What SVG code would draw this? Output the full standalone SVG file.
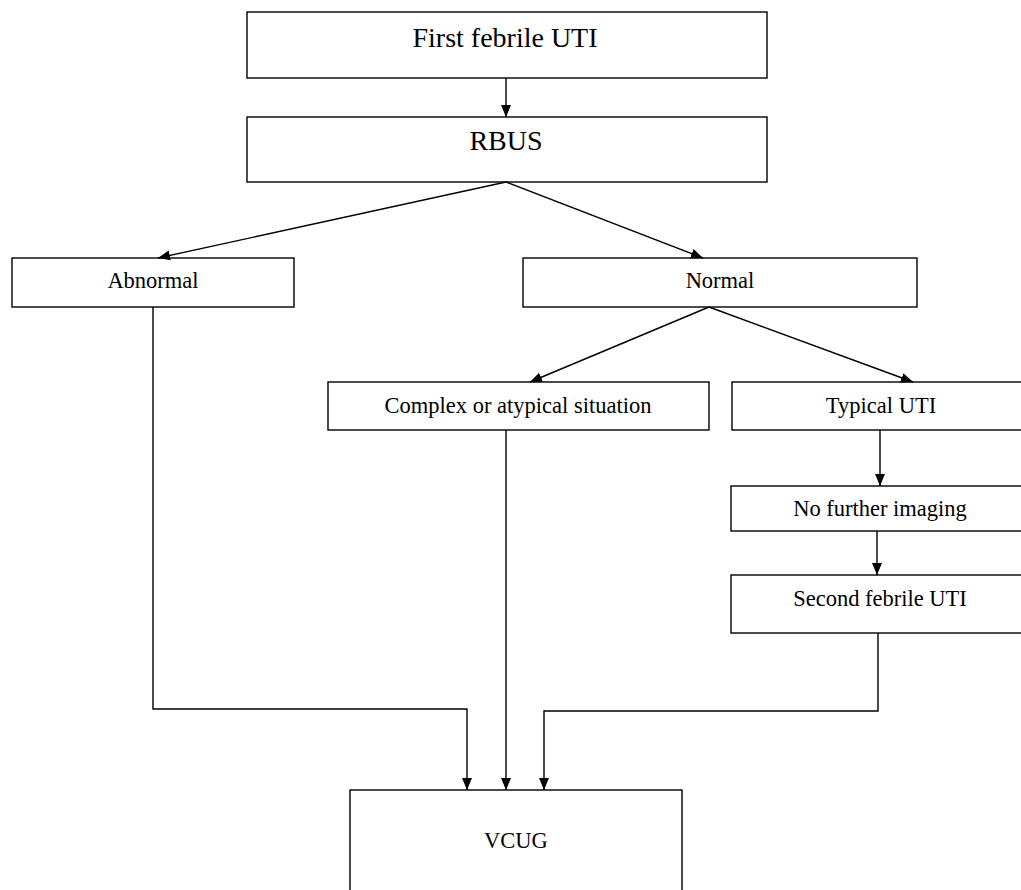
<svg xmlns="http://www.w3.org/2000/svg" width="1021" height="890" viewBox="0 0 1021 890">
<style>
.box{fill:#fff;stroke:#000;stroke-width:1.4}
.t{font-family:"Liberation Serif","Times New Roman",serif;fill:#000;text-anchor:middle}
.big{font-size:28px}
.sm{font-size:22.5px}
.c{fill:none;stroke:#000;stroke-width:1.4}
</style>
<defs>
<marker id="ah" markerUnits="userSpaceOnUse" markerWidth="12" markerHeight="12" viewBox="0 0 12 12" refX="12" refY="6" orient="auto">
<path d="M0,1 L12,6 L0,11 Z" fill="#000"/>
</marker>
</defs>
<rect width="1021" height="890" fill="#fff"/>
<g id="n1"><rect class="box" x="247" y="12" width="520" height="66"/><text class="t big" x="505" y="47">First febrile UTI</text></g>
<g id="n2"><rect class="box" x="247" y="117" width="520" height="65"/><text class="t big" x="506" y="150">RBUS</text></g>
<g id="n3"><rect class="box" x="12" y="258" width="282" height="49"/><text class="t sm" x="153" y="288">Abnormal</text></g>
<g id="n4"><rect class="box" x="523" y="258" width="394" height="49"/><text class="t sm" x="720" y="288">Normal</text></g>
<g id="n5"><rect class="box" x="328" y="382" width="381" height="48"/><text class="t sm" x="518" y="413">Complex or atypical situation</text></g>
<g id="n6"><rect class="box" x="732" y="382" width="300" height="48"/><text class="t sm" x="881" y="413">Typical UTI</text></g>
<g id="n7"><rect class="box" x="731" y="486" width="300" height="45"/><text class="t sm" x="880" y="516">No further imaging</text></g>
<g id="n8"><rect class="box" x="731" y="575" width="300" height="58"/><text class="t sm" x="880" y="606">Second febrile UTI</text></g>
<g id="n9"><rect class="box" x="350" y="790" width="332" height="120"/><text class="t sm" x="516" y="848">VCUG</text></g>
<g id="connectors">
<path class="c" d="M506,78 L506,117" marker-end="url(#ah)"/>
<path class="c" d="M506,182 L158,258" marker-end="url(#ah)"/>
<path class="c" d="M506,182 L703,258" marker-end="url(#ah)"/>
<path class="c" d="M709,307 L530,382" marker-end="url(#ah)"/>
<path class="c" d="M709,307 L913,382" marker-end="url(#ah)"/>
<path class="c" d="M880,430 L880,486" marker-end="url(#ah)"/>
<path class="c" d="M877,531 L877,575" marker-end="url(#ah)"/>
<path class="c" d="M153,307 L153,709 L467,709 L467,790" marker-end="url(#ah)"/>
<path class="c" d="M506,430 L506,790" marker-end="url(#ah)"/>
<path class="c" d="M878,633 L878,711 L544,711 L544,790" marker-end="url(#ah)"/>
</g>
</svg>
